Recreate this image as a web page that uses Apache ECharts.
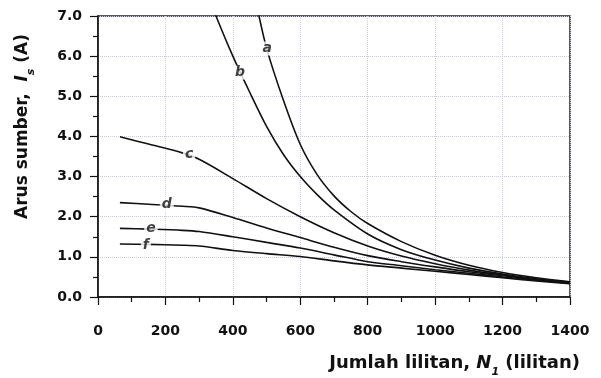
<!DOCTYPE html>
<html>
<head>
<meta charset="utf-8">
<script src="https://cdn.jsdelivr.net/npm/echarts@6/dist/echarts.min.js"></script>
<style>html,body{margin:0;padding:0;background:#fff}#c{width:601px;height:378px}</style>
</head>
<body>
<div id="c"></div>
<script>
// Data (N1 turns, Is amperes)
var curveA = [[470,7.30],[500,6.20],[550,4.90],[600,3.80],[650,3.05],[700,2.52],[750,2.13],[800,1.83],[900,1.38],[1000,1.04],[1100,0.79],[1200,0.61],[1300,0.48],[1400,0.38]];
var curveB = [[340,7.25],[350,7.00],[400,6.00],[450,5.10],[500,4.25],[550,3.55],[600,3.00],[650,2.55],[700,2.17],[800,1.57],[900,1.18],[1000,0.92],[1100,0.72],[1200,0.57],[1300,0.45],[1400,0.37]];
var curveC = [[65,3.99],[150,3.81],[250,3.59],[300,3.43],[400,2.95],[500,2.45],[600,2.00],[700,1.60],[800,1.27],[900,1.02],[1000,0.83],[1100,0.67],[1200,0.55],[1300,0.45],[1400,0.36]];
var curveD = [[65,2.35],[150,2.31],[250,2.26],[300,2.22],[400,1.98],[500,1.72],[600,1.48],[700,1.24],[800,1.03],[900,0.88],[1000,0.75],[1100,0.63],[1200,0.53],[1300,0.44],[1400,0.35]];
var curveE = [[65,1.71],[150,1.69],[250,1.66],[300,1.63],[400,1.50],[500,1.36],[600,1.22],[700,1.05],[800,0.88],[900,0.78],[1000,0.68],[1100,0.59],[1200,0.50],[1300,0.42],[1400,0.34]];
var curveF = [[65,1.32],[150,1.31],[250,1.29],[300,1.27],[400,1.16],[500,1.08],[600,1.01],[700,0.90],[800,0.80],[900,0.72],[1000,0.64],[1100,0.56],[1200,0.48],[1300,0.40],[1400,0.33]];
var curveNames = ['a','b','c','d','e','f'];
// curve label anchor points in data units
var labelPoints = [[502,6.19],[421,5.59],[270,3.56],[204,2.30],[157,1.71],[142,1.29]];
var xTicks = {min:0, max:1400, interval:200};
var yTicks = {min:0, max:7, interval:1};

var FONT = 'DejaVu Sans';
var curves = [curveA, curveB, curveC, curveD, curveE, curveF];
var series = curves.map(function(d, i){
  return {type:'line', name:curveNames[i], data:d, symbol:'none', smooth:0.3, clip:true,
    lineStyle:{color:'#111', width:1.6}, z:2};
});
series.push({
  type:'scatter', symbolSize:0, z:5,
  data: labelPoints.map(function(p,i){return {value:p, name:curveNames[i]};}),
  label:{show:true, position:'inside', formatter:'{b}', color:'#111', fontStyle:'italic', fontWeight:'bold',
    fontFamily:FONT, fontSize:14, backgroundColor:'#fff', padding:[0,2,0,2]}
});

function rich(fs){
  return {i:{fontStyle:'italic', fontWeight:'bold', fontSize:fs, fontFamily:FONT, color:'#111'},
          sub:{fontStyle:'italic', fontWeight:'bold', fontSize:11, fontFamily:FONT, color:'#111', verticalAlign:'bottom', padding:[0,0,-6,0]}};
}
var tickStyle = {color:'#111', width:1.2};
var gridStyle = {color:'#c9cbe0', type:'dotted', width:1};

var chart = echarts.init(document.getElementById('c'), null, {renderer:'canvas'});
chart.setOption({
  animation:false,
  backgroundColor:'#fff',
  grid:{left:98, right:31, top:16, bottom:79, show:true, borderColor:'#222', borderWidth:1.5, backgroundColor:'transparent'},
  xAxis:{type:'value', min:xTicks.min, max:xTicks.max, interval:xTicks.interval,
    name:'Jumlah lilitan, {i|N}{sub|1} (lilitan)', nameLocation:'end', nameGap:0,
    nameTextStyle:{fontFamily:FONT, fontWeight:'bold', fontSize:18, color:'#111',
      align:'right', verticalAlign:'top', padding:[57,-10,0,0], rich:rich(18)},
    axisLine:{show:true, onZero:false, lineStyle:{color:'#111', width:1.5}},
    axisTick:{show:true, inside:false, length:8, lineStyle:tickStyle},
    minorTick:{show:true, splitNumber:2, length:5, lineStyle:tickStyle},
    axisLabel:{margin:27, fontFamily:FONT, fontWeight:'bold', fontSize:14, color:'#111',
      formatter:function(v){return String(v);}},
    splitLine:{show:true, lineStyle:gridStyle}
  },
  yAxis:{type:'value', min:yTicks.min, max:yTicks.max, interval:yTicks.interval,
    name:'Arus sumber,  {i|I}{sub|s} (A)', nameLocation:'middle', nameGap:67,
    nameTextStyle:{fontFamily:FONT, fontWeight:'bold', fontSize:17, color:'#111',
      padding:[0,0,0,60], rich:rich(17)},
    axisLine:{show:true, onZero:false, lineStyle:{color:'#111', width:1.5}},
    axisTick:{show:true, inside:false, length:8, lineStyle:tickStyle},
    minorTick:{show:true, splitNumber:2, length:5, lineStyle:tickStyle},
    axisLabel:{margin:16, fontFamily:FONT, fontWeight:'bold', fontSize:14, color:'#111',
      formatter:function(v){return v.toFixed(1);}},
    splitLine:{show:true, lineStyle:gridStyle}
  },
  series:series
});
</script>
</body>
</html>
